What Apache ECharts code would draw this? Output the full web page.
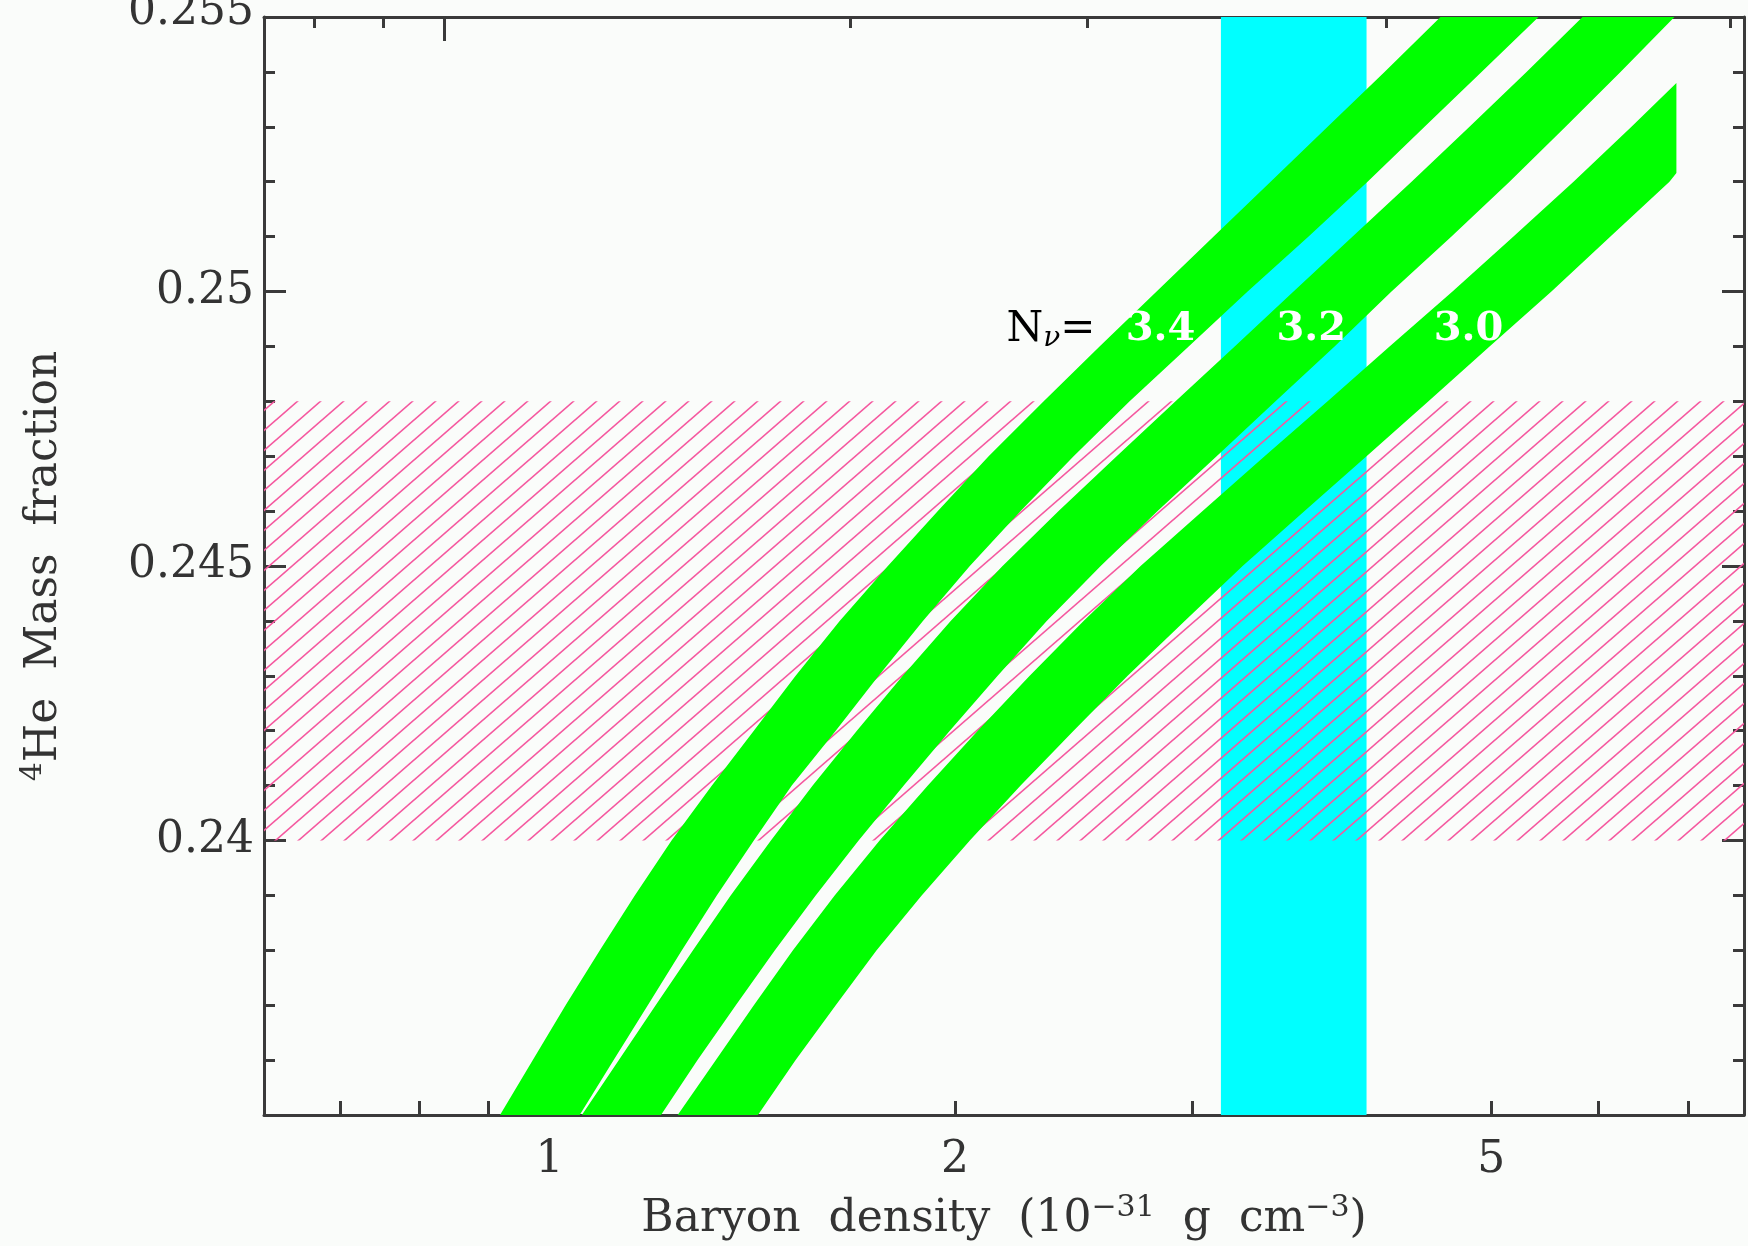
<!DOCTYPE html>
<html>
<head>
<meta charset="utf-8">
<title>4He mass fraction vs baryon density</title>
<script src="https://cdn.jsdelivr.net/npm/echarts@6/dist/echarts.min.js"></script>
<style>
  html, body { margin: 0; padding: 0; background: #fafcfa; }
  #chart { width: 1748px; height: 1246px; }
</style>
</head>
<body>
<div id="chart"></div>
<script>
// He mass fraction levels at which the band edges were read
const heLevels = [0.235, 0.236, 0.237, 0.238, 0.239, 0.240, 0.241, 0.242, 0.243, 0.244, 0.245,
  0.246, 0.247, 0.248, 0.249, 0.250, 0.251, 0.252, 0.253, 0.254, 0.255];

// baryon density of each band edge (1e-31 g cm^-3), one per heLevel
const n34Left = [0.919, 0.972, 1.028, 1.090, 1.157, 1.232, 1.320, 1.418, 1.523, 1.642, 1.783,
  1.942, 2.118, 2.327, 2.560, 2.822, 3.111, 3.429, 3.780, 4.166, 4.584];
const n34Right = [1.053, 1.116, 1.183, 1.254, 1.331, 1.418, 1.513, 1.631, 1.755, 1.893, 2.051,
  2.237, 2.449, 2.695, 2.981, 3.297, 3.659, 4.047, 4.461, 4.917, 5.420];
const n32Left = [1.057, 1.126, 1.199, 1.278, 1.363, 1.460, 1.568, 1.691, 1.829, 1.985, 2.169,
  2.387, 2.636, 2.915, 3.225, 3.566, 3.945, 4.363, 4.817, 5.310, 5.843];
const n32Right = [1.210, 1.288, 1.375, 1.470, 1.576, 1.696, 1.832, 1.982, 2.151, 2.339, 2.565,
  2.827, 3.127, 3.458, 3.825, 4.216, 4.671, 5.158, 5.676, 6.235, 6.837];
// N = 3.0 band stops at density 6.86
const n30Left = [1.245, 1.329, 1.418, 1.516, 1.628, 1.758, 1.909, 2.079, 2.272, 2.491, 2.746,
  3.053, 3.394, 3.780, 4.202, 4.679, 5.193, 5.754, 6.353];
const n30Right = [1.428, 1.523, 1.631, 1.749, 1.889, 2.051, 2.237, 2.449, 2.686, 2.961, 3.269,
  3.634, 4.040, 4.491, 4.985, 5.541, 6.129, 6.779];
const n30End = 6.86;
const n30EndHe = [0.2538, 0.25216];

// cyan density band and observed He band
const densityBand = [3.15, 4.04];
const heBand = [0.240, 0.248];

// band labels
const nuLabels = ['3.4', '3.2', '3.0'];
const nuLabelX = [2.677, 3.464, 4.531];
const nuPrefixX = 2.184;
const labelHe = 0.2493;

// axes
const xMin = 0.614, xMax = 7.70;
const yMin = 0.235, yMax = 0.255;
const topScale = 0.836; // density per unit of the top axis
const bottomTicks = [0.7, 0.8, 0.9, 1, 2, 3, 4, 5, 6, 7];
const bottomLabels = [1, 2, 5];
const topMinor = [0.8, 0.9, 2, 3, 4, 5, 6, 7, 8, 9];
const topMajor = [1];

const FONT = '"DejaVu Serif", "Liberation Serif", serif';
const INK = '#3a3a3a';
const TEXT = '#333';

function bandPoints(left, right) {
  const a = left.map((x, i) => [x, heLevels[i]]);
  const b = right.map((x, i) => [x, heLevels[i]]).reverse();
  return a.concat(b);
}

const band34 = bandPoints(n34Left, n34Right);
const band32 = bandPoints(n32Left, n32Right);
const band30 = n30Left.map((x, i) => [x, heLevels[i]])
  .concat([[n30End, n30EndHe[0]], [n30End, n30EndHe[1]]])
  .concat(n30Right.map((x, i) => [x, heLevels[i]]).reverse());

// pink "/" hatching tile
function hatchPattern() {
  const w = 23, h = 20;
  const c = document.createElement('canvas');
  c.width = w; c.height = h;
  const ctx = c.getContext('2d');
  ctx.strokeStyle = '#f5589f';
  ctx.lineWidth = 1.6;
  [[-w, 2 * h, w, 0], [0, 2 * h, 2 * w, 0], [-w, h, w, -h]].forEach(l => {
    ctx.beginPath();
    ctx.moveTo(l[0], l[1]);
    ctx.lineTo(l[2], l[3]);
    ctx.stroke();
  });
  return c;
}

function polygonSeries(points, fill, z) {
  return {
    type: 'custom',
    z: z,
    clip: true,
    silent: true,
    data: [[1, 0.24]],
    renderItem: (params, api) => ({
      type: 'polygon',
      shape: { points: points.map(p => api.coord(p)) },
      style: { fill: fill }
    })
  };
}

const chart = echarts.init(document.getElementById('chart'));

const tickStyle = { color: INK, width: 3 };
const lineStyle = { color: INK, width: 3 };
const supRich = {
  t: { fontFamily: FONT, fontSize: 44, color: TEXT },
  s: { fontFamily: FONT, fontSize: 30, color: TEXT, verticalAlign: 'top', padding: [0, 0, 24, 0] }
};

const option = {
  animation: false,
  backgroundColor: '#fafcfa',
  grid: { left: 264, right: 4, top: 17, bottom: 131, outerBoundsMode: 'none', containLabel: false },
  xAxis: [
    {
      type: 'log',
      position: 'bottom',
      min: xMin,
      max: xMax,
      axisLine: { show: true, lineStyle },
      axisTick: { show: true, inside: true, length: 14, customValues: bottomTicks, lineStyle: tickStyle },
      minorTick: { show: false },
      splitLine: { show: false },
      axisLabel: {
        customValues: bottomLabels,
        margin: 24,
        fontFamily: FONT,
        fontSize: 44,
        color: TEXT,
        formatter: v => String(v)
      },
      name: '{t|Baryon  density  (10}{s|\u221231}{t|  g  cm}{s|\u22123}{t|)}',
      nameLocation: 'middle',
      nameGap: 78,
      nameTextStyle: { color: TEXT, rich: supRich }
    },
    {
      type: 'log',
      position: 'top',
      min: xMin / topScale,
      max: xMax / topScale,
      axisLine: { show: true, lineStyle },
      axisTick: { show: true, inside: true, length: 11, customValues: topMinor, lineStyle: tickStyle },
      axisLabel: { show: false },
      splitLine: { show: false }
    },
    {
      type: 'log',
      position: 'top',
      min: xMin / topScale,
      max: xMax / topScale,
      axisLine: { show: false },
      axisTick: { show: true, inside: true, length: 24, customValues: topMajor, lineStyle: tickStyle },
      axisLabel: { show: false },
      splitLine: { show: false }
    }
  ],
  yAxis: [
    {
      type: 'value',
      position: 'left',
      min: yMin,
      max: yMax,
      interval: 0.005,
      axisLine: { show: true, lineStyle },
      axisTick: { show: true, inside: true, length: 22, lineStyle: tickStyle },
      minorTick: { show: true, splitNumber: 5, length: 11, lineStyle: tickStyle },
      splitLine: { show: false },
      axisLabel: {
        margin: 10,
        fontFamily: FONT,
        fontSize: 44,
        color: TEXT,
        formatter: v => {
          if (v < 0.2375) return '';
          const s = String(+v.toFixed(3));
          return v > 0.2545 ? '{up|' + s + '}' : s;
        },
        rich: { up: { fontFamily: FONT, fontSize: 44, color: TEXT, padding: [0, 0, 8, 0] } }
      },
      name: '{s|4}{t|He  Mass  fraction}',
      nameLocation: 'middle',
      nameGap: 192,
      nameTextStyle: { color: TEXT, rich: supRich }
    },
    {
      type: 'value',
      position: 'right',
      min: yMin,
      max: yMax,
      interval: 0.005,
      axisLine: { show: true, lineStyle },
      axisTick: { show: true, inside: true, length: 22, lineStyle: tickStyle },
      minorTick: { show: true, splitNumber: 5, length: 11, lineStyle: tickStyle },
      splitLine: { show: false },
      axisLabel: { show: false }
    }
  ],
  series: [
    polygonSeries([[densityBand[0], yMin], [densityBand[1], yMin], [densityBand[1], yMax], [densityBand[0], yMax]], '#00ffff', 1),
    polygonSeries([[xMin, heBand[0]], [xMax, heBand[0]], [xMax, heBand[1]], [xMin, heBand[1]]],
      { image: hatchPattern(), repeat: 'repeat' }, 2),
    polygonSeries(band34, '#00ff00', 3),
    polygonSeries(band32, '#00ff00', 3),
    polygonSeries(band30, '#00ff00', 3),
    {
      type: 'custom',
      z: 4,
      silent: true,
      clip: false,
      data: [[1, 0.24]],
      renderItem: (params, api) => {
        const children = nuLabels.map((t, i) => {
          const p = api.coord([nuLabelX[i], labelHe]);
          return {
            type: 'text',
            x: p[0],
            y: p[1],
            style: {
              text: t,
              fill: '#ffffff',
              font: 'bold 40px ' + FONT,
              align: 'left',
              verticalAlign: 'middle'
            }
          };
        });
        const q = api.coord([nuPrefixX, labelHe]);
        children.push({
          type: 'text',
          x: q[0],
          y: q[1],
          style: {
            text: '{n|N}{v|\u03bd}{n|=}',
            align: 'left',
            verticalAlign: 'middle',
            rich: {
              n: { fontFamily: FONT, fontSize: 42, color: '#444' },
              v: { fontFamily: FONT, fontSize: 28, fontStyle: 'italic', color: '#444',
                verticalAlign: 'bottom', padding: [18, 0, 0, 0] }
            }
          }
        });
        return { type: 'group', children };
      }
    }
  ]
};

chart.setOption(option);
</script>
</body>
</html>
